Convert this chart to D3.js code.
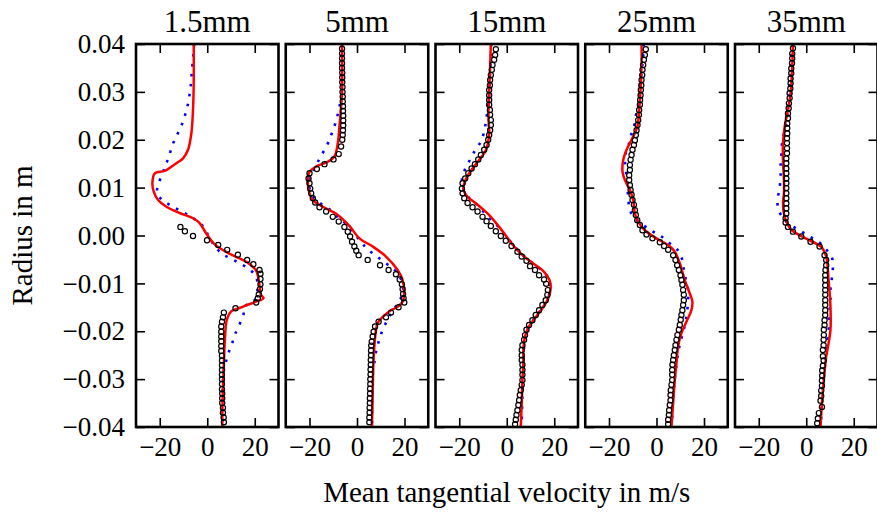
<!DOCTYPE html>
<html>
<head>
<meta charset="utf-8">
<script src="https://cdn.jsdelivr.net/npm/d3@7"></script>
<style>
  body { margin: 0; background: #fff; }
  svg { display: block; }
  text, .tick text { font-family: "Liberation Serif", "Times New Roman", serif !important; fill: #000; }
</style>
</head>
<body>
<svg id="chart" width="877" height="512"></svg>
<script>
// Axial stations (one panel each)
const stations = ["1.5mm", "5mm", "15mm", "25mm", "35mm"];
const xTicks = [-20, 0, 20];
const yTicks = [-0.04, -0.03, -0.02, -0.01, 0.00, 0.01, 0.02, 0.03, 0.04];
const xDomain = [-30, 30];
const yDomain = [-0.04, 0.04];

// Each point: [velocity m/s, radius m]
// Solid red simulation profiles
const simSolid1 = [[-5.7,0.040],[-5.7,0.0319],[-6.0,0.0262],[-6.7,0.0213],[-8.1,0.0179],[-10.2,0.0161],[-13.0,0.0151],[-17.9,0.0135],[-22.1,0.0130],[-23.1,0.0109],[-22.5,0.0091],[-20.7,0.0074],[-17.2,0.0060],[-11.6,0.0047],[-6.0,0.0036],[-3.2,0.0026],[-0.4,0.0004],[3.0,-0.0018],[9.3,-0.0038],[16.4,-0.0055],[20.5,-0.0073],[21.9,-0.0100],[22.6,-0.0124],[23.7,-0.0131],[20.5,-0.0138],[14.9,-0.0149],[10.0,-0.0159],[8.2,-0.0177],[7.5,-0.0211],[7.0,-0.0267],[6.5,-0.0337],[6.3,-0.040]];
const simSolid2 = [[-6.3,0.040],[-6.3,0.0297],[-6.7,0.0269],[-7.4,0.0227],[-8.1,0.0192],[-9.5,0.0165],[-12.3,0.0154],[-17.2,0.0144],[-20.0,0.0133],[-20.7,0.0116],[-20.0,0.0088],[-18.6,0.0074],[-14.4,0.0060],[-8.1,0.0043],[-3.2,0.0020],[1.0,-0.0006],[6.6,-0.0023],[12.2,-0.0044],[17.1,-0.0072],[19.2,-0.0093],[19.9,-0.0121],[19.2,-0.0138],[17.1,-0.0149],[14.3,-0.0156],[10.8,-0.0170],[8.7,-0.0183],[8.0,-0.0197],[7.3,-0.0232],[6.9,-0.0267],[6.6,-0.0337],[6.3,-0.040]];
const simSolid3 = [[-6.7,0.040],[-7.0,0.0353],[-7.4,0.0297],[-7.7,0.0248],[-7.4,0.0213],[-8.8,0.0178],[-11.6,0.0158],[-15.8,0.0130],[-17.9,0.0109],[-18.2,0.0095],[-16.5,0.0081],[-13.0,0.0067],[-8.1,0.0046],[-3.2,0.0018],[3.1,-0.0023],[7.3,-0.0044],[12.2,-0.0062],[15.7,-0.0076],[18.0,-0.0093],[18.5,-0.0110],[17.5,-0.0131],[15.0,-0.0152],[12.2,-0.0171],[9.4,-0.0190],[7.7,-0.0211],[7.0,-0.0239],[7.0,-0.0267],[6.6,-0.0302],[6.3,-0.0350],[5.9,-0.040]];
const simSolid4 = [[-6.3,0.040],[-6.3,0.0353],[-7.0,0.0283],[-8.1,0.0227],[-10.5,0.0200],[-12.6,0.0179],[-14.0,0.0158],[-14.3,0.0133],[-13.3,0.0116],[-11.2,0.0095],[-9.8,0.0074],[-9.1,0.0046],[-7.7,0.0029],[-4.9,0.0011],[0.0,-0.0006],[4.9,-0.0020],[7.7,-0.0034],[9.8,-0.0058],[11.9,-0.0093],[14.0,-0.0121],[15.1,-0.0138],[14.7,-0.0156],[12.6,-0.0180],[10.5,-0.0204],[9.1,-0.0232],[8.4,-0.0267],[7.7,-0.0302],[7.0,-0.0350],[6.3,-0.040]];
const simSolid5 = [[-5.6,0.040],[-5.9,0.0353],[-6.6,0.0297],[-7.7,0.0262],[-9.1,0.0227],[-9.8,0.0192],[-9.8,0.0158],[-9.4,0.0116],[-9.4,0.0088],[-9.8,0.0067],[-9.4,0.0046],[-8.4,0.0029],[-6.3,0.0012],[-0.7,-0.0005],[6.3,-0.0024],[8.4,-0.0044],[9.4,-0.0093],[10.2,-0.0149],[10.2,-0.0197],[9.4,-0.0225],[8.4,-0.0253],[7.4,-0.0302],[6.6,-0.0350],[6.0,-0.040]];

// Dotted blue simulation profiles
const simDotted1 = [[-5.5,0.040],[-5.9,0.0373],[-6.3,0.0353],[-6.7,0.0330],[-7.0,0.0310],[-7.7,0.0287],[-8.5,0.0266],[-9.8,0.0245],[-11.3,0.0224],[-13.3,0.0205],[-15.0,0.0184],[-16.2,0.0163],[-17.9,0.0144],[-18.6,0.0131],[-20.8,0.0105],[-21.0,0.0087],[-18.9,0.0074],[-15.1,0.0062],[-10.0,0.0048],[-5.0,0.0033],[-1.1,0.0015],[1.0,-0.0006],[5.9,-0.0037],[10.0,-0.0048],[13.5,-0.0058],[17.4,-0.0069],[20.5,-0.0086],[21.2,-0.0110],[19.8,-0.0136],[15.6,-0.0149],[15.2,-0.0166],[11.9,-0.0204],[10.5,-0.0225],[8.9,-0.0246],[7.7,-0.0267],[6.8,-0.0288],[6.5,-0.032],[6.4,-0.036],[6.3,-0.040]];
const simDotted2 = [[-6.4,0.040],[-6.5,0.030],[-7.4,0.0269],[-8.5,0.0245],[-9.8,0.0224],[-11.3,0.0205],[-13.0,0.0184],[-15.4,0.0165],[-17.2,0.0146],[-19.5,0.0128],[-20.3,0.0110],[-18.6,0.0081],[-15.1,0.0066],[-11.2,0.0053],[-7.7,0.0036],[-4.6,0.0024],[1.0,-0.0009],[4.1,-0.0027],[7.7,-0.0041],[10.8,-0.0053],[14.0,-0.0065],[16.6,-0.0076],[18.8,-0.0095],[19.3,-0.0120],[17.1,-0.0142],[14.3,-0.0163],[12.2,-0.0182],[10.5,-0.0201],[9.1,-0.0222],[8.0,-0.0243],[7.3,-0.0266],[6.6,-0.0288],[6.4,-0.033],[6.3,-0.040]];
const simDotted3 = [[-6.5,0.040],[-7.0,0.034],[-7.6,0.028],[-8.8,0.0238],[-9.5,0.0217],[-10.9,0.0196],[-13.4,0.0177],[-15.5,0.0158],[-17.6,0.0138],[-18.9,0.0116],[-18.0,0.0095],[-15.8,0.0078],[-12.3,0.0064],[-9.1,0.0046],[-3.5,0.0018],[2.8,-0.0020],[7.5,-0.0044],[12.0,-0.0062],[15.5,-0.0076],[17.8,-0.0093],[18.3,-0.0110],[17.3,-0.0131],[14.8,-0.0152],[12.0,-0.0171],[9.3,-0.0190],[7.8,-0.0211],[7.2,-0.0239],[7.1,-0.0267],[6.8,-0.0302],[6.5,-0.0350],[6.3,-0.040]];
const simDotted4 = [[-5.4,0.040],[-5.6,0.0374],[-6.3,0.0339],[-7.7,0.0269],[-8.7,0.0250],[-9.5,0.0227],[-10.9,0.0207],[-11.9,0.0186],[-13.3,0.0165],[-13.0,0.0140],[-12.3,0.0110],[-11.9,0.0078],[-11.2,0.0053],[-9.1,0.0036],[-2.1,0.0010],[1.8,-0.0001],[5.3,-0.0015],[8.7,-0.0029],[10.8,-0.0050],[11.5,-0.0071],[12.3,-0.0091],[13.3,-0.0114],[13.3,-0.0136],[12.9,-0.0159],[12.3,-0.0178],[11.5,-0.0197],[10.2,-0.0220],[9.1,-0.0245],[8.3,-0.0275],[7.5,-0.031],[6.9,-0.035],[6.4,-0.040]];
const simDotted5 = [[-5.8,0.040],[-6.3,0.0367],[-7.0,0.0297],[-8.4,0.0234],[-9.4,0.0213],[-10.2,0.0192],[-10.5,0.0168],[-10.8,0.0146],[-10.8,0.0123],[-11.2,0.0100],[-11.9,0.0079],[-11.9,0.0057],[-9.5,0.0035],[-6.6,0.0022],[-2.8,0.0011],[1.0,-0.0001],[4.6,-0.0011],[8.0,-0.0027],[10.8,-0.0046],[11.2,-0.0066],[10.8,-0.0089],[10.2,-0.0112],[10.2,-0.0135],[9.8,-0.0156],[9.4,-0.0178],[9.4,-0.0199],[8.8,-0.0222],[8.4,-0.0243],[8.0,-0.0266],[7.4,-0.0288],[7.0,-0.0309],[6.7,-0.0331],[6.6,-0.0354],[6.3,-0.0375],[6.3,-0.040]];

// Measured profiles (open circles)
const measured1 = [[-11.3,0.0018],[-9.4,0.0009],[-6.0,-0.0001],[-0.1,-0.0010],[4.6,-0.0020],[8.4,-0.0030],[12.9,-0.0040],[16.8,-0.0051],[19.4,-0.0060],[22.0,-0.0072],[22.4,-0.0080],[22.4,-0.0091],[22.4,-0.0102],[22.2,-0.0112],[21.7,-0.0123],[21.3,-0.0131],[20.6,-0.0140],[11.9,-0.0152],[7.0,-0.0161],[6.6,-0.0171],[6.2,-0.0180],[5.9,-0.0190],[5.9,-0.0201],[5.9,-0.0211],[5.9,-0.0221],[5.9,-0.0231],[5.9,-0.0241],[6.2,-0.0251],[6.2,-0.0261],[6.2,-0.0271],[6.2,-0.0281],[6.2,-0.0291],[6.2,-0.0300],[6.2,-0.0310],[6.2,-0.0321],[6.3,-0.0330],[6.3,-0.0340],[6.3,-0.0350],[6.6,-0.0360],[6.6,-0.0370],[6.9,-0.0380],[7.0,-0.0390]];
const measured2 = [[-6.3,0.039],[-6.3,0.038],[-6.3,0.037],[-6.3,0.036],[-6.3,0.035],[-6.2,0.034],[-6.2,0.033],[-6.2,0.032],[-6.1,0.031],[-6.1,0.030],[-6.0,0.029],[-6.0,0.028],[-5.9,0.027],[-5.9,0.026],[-5.8,0.025],[-5.8,0.024],[-5.8,0.023],[-5.9,0.022],[-6.0,0.021],[-6.2,0.020],[-6.7,0.0186],[-7.7,0.0170],[-9.9,0.0159],[-13.7,0.0149],[-16.9,0.0139],[-20.0,0.0130],[-20.4,0.0119],[-20.0,0.0109],[-19.7,0.0098],[-19.3,0.0088],[-18.6,0.0078],[-17.6,0.0069],[-15.8,0.0059],[-13.0,0.0050],[-10.2,0.0039],[-7.7,0.0029],[-5.3,0.0018],[-3.9,0.0008],[-2.9,-0.0002],[-2.1,-0.0013],[-1.1,-0.0023],[-0.3,-0.0032],[0.7,-0.0041],[4.5,-0.0051],[9.7,-0.0062],[13.3,-0.0072],[16.4,-0.0081],[18.0,-0.0092],[18.9,-0.0102],[19.2,-0.0112],[19.4,-0.0122],[19.6,-0.0131],[19.9,-0.0140],[17.5,-0.0150],[14.3,-0.0161],[12.2,-0.0171],[9.1,-0.0180],[7.6,-0.0190],[7.0,-0.0201],[6.6,-0.0211],[6.2,-0.0222],[6.0,-0.023],[5.9,-0.024],[5.9,-0.025],[5.8,-0.026],[5.8,-0.027],[5.7,-0.028],[5.7,-0.029],[5.6,-0.030],[5.6,-0.031],[5.5,-0.032],[5.5,-0.033],[5.4,-0.034],[5.4,-0.035],[5.3,-0.036],[5.3,-0.037],[5.2,-0.038],[5.2,-0.039]];
const measured3 = [[-4.6,0.0389],[-4.9,0.0377],[-5.3,0.0367],[-6.0,0.0356],[-6.3,0.0346],[-6.7,0.0335],[-7.0,0.0325],[-7.1,0.0314],[-7.4,0.0304],[-7.4,0.0293],[-7.4,0.0283],[-7.4,0.0273],[-7.1,0.0262],[-7.0,0.0252],[-6.7,0.0241],[-6.7,0.0231],[-7.0,0.0220],[-7.4,0.0210],[-7.8,0.0200],[-8.5,0.0189],[-9.5,0.0179],[-10.9,0.0168],[-12.0,0.0159],[-13.4,0.0149],[-14.8,0.0140],[-16.2,0.0130],[-17.5,0.0119],[-18.6,0.0109],[-18.9,0.0098],[-18.6,0.0088],[-17.9,0.0078],[-16.5,0.0068],[-14.4,0.0059],[-12.3,0.0050],[-10.2,0.0039],[-8.5,0.0030],[-6.7,0.0020],[-4.6,0.0009],[-2.5,-0.0001],[-0.4,-0.0011],[2.0,-0.0022],[4.5,-0.0034],[6.3,-0.0044],[8.3,-0.0053],[9.8,-0.0064],[11.9,-0.0072],[13.6,-0.0083],[15.7,-0.0092],[16.6,-0.0101],[17.3,-0.0114],[17.1,-0.0124],[16.4,-0.0135],[15.0,-0.0145],[13.6,-0.0156],[12.2,-0.0166],[10.8,-0.0177],[9.4,-0.0187],[8.3,-0.0197],[7.7,-0.0208],[7.3,-0.0218],[6.6,-0.0229],[6.3,-0.0239],[6.3,-0.0250],[6.3,-0.0260],[6.6,-0.0270],[6.6,-0.0281],[6.6,-0.0291],[6.6,-0.0302],[6.3,-0.0312],[5.9,-0.0323],[5.5,-0.0333],[5.2,-0.0344],[4.9,-0.0354],[4.5,-0.0365],[4.1,-0.0375],[3.8,-0.0385],[3.5,-0.0394]];
const measured4 = [[-4.5,0.0389],[-4.9,0.0377],[-5.3,0.0367],[-5.6,0.0356],[-5.9,0.0346],[-6.0,0.0335],[-6.3,0.0325],[-6.4,0.0314],[-6.6,0.0304],[-6.7,0.0293],[-6.9,0.0283],[-7.0,0.0273],[-7.3,0.0262],[-7.4,0.0252],[-7.7,0.0241],[-8.0,0.0231],[-8.4,0.0220],[-8.7,0.0210],[-9.1,0.0199],[-9.5,0.0189],[-10.1,0.0179],[-10.5,0.0168],[-10.9,0.0158],[-11.2,0.0147],[-11.2,0.0137],[-11.5,0.0126],[-11.5,0.0116],[-11.2,0.0105],[-10.9,0.0095],[-10.5,0.0085],[-10.1,0.0074],[-9.5,0.0064],[-9.1,0.0053],[-8.7,0.0043],[-8.1,0.0032],[-7.0,0.0022],[-5.9,0.0011],[-4.2,0.0002],[-1.7,-0.0006],[1.4,-0.0014],[3.2,-0.0022],[4.9,-0.0030],[7.0,-0.0041],[8.0,-0.0051],[8.7,-0.0062],[9.4,-0.0072],[10.1,-0.0083],[10.5,-0.0093],[10.9,-0.0103],[11.2,-0.0114],[11.5,-0.0124],[11.5,-0.0135],[11.2,-0.0145],[10.9,-0.0156],[10.5,-0.0166],[10.2,-0.0176],[9.8,-0.0187],[9.4,-0.0197],[8.8,-0.0208],[8.4,-0.0218],[8.0,-0.0229],[7.7,-0.0239],[7.3,-0.0250],[7.0,-0.0260],[6.7,-0.0270],[6.6,-0.0281],[6.6,-0.0291],[6.6,-0.0302],[6.3,-0.0312],[6.0,-0.0323],[5.9,-0.0333],[5.9,-0.0344],[5.6,-0.0354],[5.3,-0.0365],[5.2,-0.0375],[4.9,-0.0385],[4.9,-0.0394]];
const measured5 = [[-5.6,0.0391],[-5.9,0.0380],[-5.9,0.0370],[-6.0,0.0360],[-6.3,0.0349],[-6.3,0.0339],[-6.6,0.0328],[-6.6,0.0318],[-6.7,0.0307],[-7.0,0.0297],[-7.0,0.0287],[-7.3,0.0276],[-7.4,0.0266],[-7.7,0.0255],[-7.7,0.0245],[-8.0,0.0234],[-8.0,0.0224],[-8.0,0.0213],[-8.1,0.0203],[-8.1,0.0193],[-8.1,0.0182],[-8.1,0.0172],[-8.4,0.0161],[-8.4,0.0151],[-8.4,0.0140],[-8.4,0.0130],[-8.4,0.0119],[-8.4,0.0109],[-8.4,0.0099],[-8.4,0.0088],[-8.4,0.0078],[-8.4,0.0067],[-8.4,0.0057],[-8.4,0.0046],[-8.7,0.0036],[-8.7,0.0027],[-7.7,0.0018],[-5.6,0.0008],[-2.1,-0.0002],[1.8,-0.0013],[5.6,-0.0023],[7.7,-0.0041],[8.4,-0.0051],[8.4,-0.0062],[8.1,-0.0072],[8.0,-0.0083],[8.0,-0.0093],[8.0,-0.0104],[8.0,-0.0114],[8.0,-0.0124],[8.0,-0.0135],[8.0,-0.0145],[8.0,-0.0156],[8.0,-0.0166],[7.7,-0.0177],[7.7,-0.0187],[7.4,-0.0197],[7.4,-0.0208],[7.3,-0.0218],[7.3,-0.0229],[7.0,-0.0239],[7.0,-0.0252],[7.3,-0.0261],[7.0,-0.0272],[6.7,-0.0282],[6.7,-0.0293],[6.6,-0.0303],[6.6,-0.0314],[6.3,-0.0324],[6.3,-0.0335],[6.0,-0.0345],[6.6,-0.0358],[5.3,-0.0371],[4.9,-0.0382],[4.6,-0.0392]];

const solidSeries = [simSolid1, simSolid2, simSolid3, simSolid4, simSolid5];
const dottedSeries = [simDotted1, simDotted2, simDotted3, simDotted4, simDotted5];
const measuredSeries = [measured1, measured2, measured3, measured4, measured5];

// Layout
const panelLeft = 136, panelStep = 149.75, panelW = 142.5;
const plotTop = 44, plotBottom = 427;
const tickLen = 9;
const serif = '"Liberation Serif", "Times New Roman", serif';

const svg = d3.select("#chart");

const y = d3.scaleLinear().domain(yDomain).range([plotBottom, plotTop]);
const fmtY = d3.format(".2f");

stations.forEach((name, i) => {
  const x0 = panelLeft + i * panelStep;
  const x = d3.scaleLinear().domain(xDomain).range([x0, x0 + panelW]);
  const g = svg.append("g");

  const clipId = "clip" + i;
  svg.append("clipPath").attr("id", clipId)
    .append("rect").attr("x", x0).attr("y", plotTop)
    .attr("width", panelW).attr("height", plotBottom - plotTop);

  const line = d3.line()
    .x(d => x(d[0])).y(d => y(d[1]))
    .curve(d3.curveCatmullRom.alpha(0.5));

  const plot = g.append("g").attr("clip-path", `url(#${clipId})`);

  plot.append("path")
    .datum(dottedSeries[i])
    .attr("d", line)
    .attr("fill", "none")
    .attr("stroke", "#0000ff")
    .attr("stroke-width", 2.6)
    .attr("stroke-dasharray", "2.6 7.4");

  plot.append("path")
    .datum(solidSeries[i])
    .attr("d", line)
    .attr("fill", "none")
    .attr("stroke", "#ff0000")
    .attr("stroke-width", 2.5)
    .attr("stroke-linejoin", "round");

  plot.selectAll("circle")
    .data(measuredSeries[i])
    .join("circle")
    .attr("cx", d => x(d[0]))
    .attr("cy", d => y(d[1]))
    .attr("r", 2.6)
    .attr("fill", "none")
    .attr("stroke", "#000")
    .attr("stroke-width", 1.2);

  // Ticks pointing inward on all four sides
  const tickStyle = sel => {
    sel.attr("font-family", serif).attr("font-size", 27);
    sel.select(".domain").remove();
    sel.selectAll(".tick line").attr("stroke", "#000").attr("stroke-width", 1.6);
    sel.selectAll(".tick text").attr("font-family", serif).attr("font-size", 27);
  };

  g.append("g").attr("transform", `translate(0,${plotBottom})`)
    .call(d3.axisBottom(x).tickValues(xTicks).tickSize(-tickLen).tickPadding(10)
      .tickFormat(d3.format("d")))
    .call(tickStyle);

  g.append("g").attr("transform", `translate(0,${plotTop})`)
    .call(d3.axisTop(x).tickValues(xTicks).tickSize(-tickLen).tickFormat(""))
    .call(tickStyle);

  const left = d3.axisLeft(y).tickValues(yTicks).tickSize(-tickLen).tickPadding(11);
  left.tickFormat(i === 0 ? fmtY : "");
  g.append("g").attr("transform", `translate(${x0},0)`)
    .call(left)
    .call(tickStyle);

  g.append("g").attr("transform", `translate(${x0 + panelW},0)`)
    .call(d3.axisRight(y).tickValues(yTicks).tickSize(-tickLen).tickFormat(""))
    .call(tickStyle);

  g.append("rect")
    .attr("x", x0).attr("y", plotTop)
    .attr("width", panelW).attr("height", plotBottom - plotTop)
    .attr("fill", "none").attr("stroke", "#000").attr("stroke-width", 2.6);

  g.append("text")
    .attr("x", x0 + panelW / 2).attr("y", 32)
    .attr("text-anchor", "middle")
    .attr("font-size", 31)
    .text(name);
});

svg.append("text")
  .attr("x", (panelLeft + panelLeft + 4 * panelStep + panelW) / 2)
  .attr("y", 502)
  .attr("text-anchor", "middle")
  .attr("font-size", 29)
  .text("Mean tangential velocity in m/s");

svg.append("text")
  .attr("transform", `translate(32,${(plotTop + plotBottom) / 2}) rotate(-90)`)
  .attr("text-anchor", "middle")
  .attr("font-size", 29)
  .text("Radius in m");
</script>
</body>
</html>
